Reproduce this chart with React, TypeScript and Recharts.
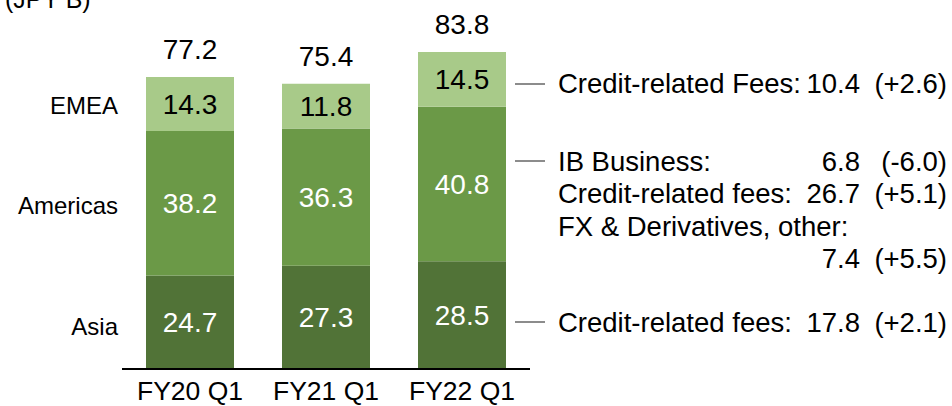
import { Bar, BarChart, LabelList, XAxis, YAxis } from "recharts";

const categories = ["FY20 Q1", "FY21 Q1", "FY22 Q1"];
const asia = [24.7, 27.3, 28.5];
const americas = [38.2, 36.3, 40.8];
const emea = [14.3, 11.8, 14.5];
const totals = [77.2, 75.4, 83.8];

const regionLabels = ["EMEA", "Americas", "Asia"];
const unitLabel = "(JPY B)";

// right-hand breakdown of FY22 Q1 by region
const emeaNotes = [["Credit-related Fees:", "10.4", "(+2.6)"]];
const americasNotes = [
    ["IB Business:", "6.8", "(-6.0)"],
    ["Credit-related fees:", "26.7", "(+5.1)"],
    ["FX & Derivatives, other:", "", ""],
    ["", "7.4", "(+5.5)"],
];
const asiaNotes = [["Credit-related fees:", "17.8", "(+2.1)"]];

const data = categories.map((name, i) => ({
    name,
    asia: asia[i],
    americas: americas[i],
    emea: emea[i],
    total: totals[i],
}));

const FONT = "'Liberation Sans', Arial, sans-serif";
const C_ASIA = "#517337";
const C_AMERICAS = "#6b9947";
const C_EMEA = "#a8ca89";

const segmentLabel = (fill: string) => (props: any) => {
    const { x, y, width, height, value } = props;
    return (
        <text x={x + width / 2} y={y + height / 2} dy={10} textAnchor="middle" fill={fill} fontSize={28} fontFamily={FONT}>
            {Number(value).toFixed(1)}
        </text>
    );
};

const totalLabel = (props: any) => {
    const { x, y, width, value } = props;
    return (
        <text x={x + width / 2} y={y - 18} textAnchor="middle" fill="#000" fontSize={28} fontFamily={FONT}>
            {Number(value).toFixed(1)}
        </text>
    );
};

const Tick = (props: any) => {
    const { x, y, payload } = props;
    return (
        <text x={x} y={y + 23} textAnchor="middle" fill="#000" fontSize={26.5} fontFamily={FONT}>
            {payload.value}
        </text>
    );
};

const NoteRows = ({ rows, y0, lineY }: { rows: string[][]; y0: number; lineY: number }) => (
    <g>
        <line x1={515} x2={545} y1={lineY} y2={lineY} stroke="#8c8c8c" strokeWidth={2} />
        {rows.map((r, i) => (
            <g key={i} fontSize={27.5} fontFamily={FONT} fill="#000">
                <text x={558} y={y0 + i * 32.3}>{r[0]}</text>
                <text x={860} y={y0 + i * 32.3} textAnchor="end">{r[1]}</text>
                <text x={947} y={y0 + i * 32.3} textAnchor="end">{r[2]}</text>
            </g>
        ))}
    </g>
);

export default function App() {
    return (
        <div style={{ position: "fixed", left: 0, top: 0, width: 952, height: 406, background: "#fff", overflow: "hidden" }}>
            <BarChart width={952} height={406} data={data} margin={{ top: 28.5, right: 422, bottom: 7, left: 122 }}>
                <XAxis dataKey="name" axisLine={{ stroke: "#000", strokeWidth: 2 }} tickLine={false} height={30} tick={<Tick />} interval={0} />
                <YAxis hide domain={[0, 90]} />
                <Bar dataKey="asia" stackId="a" fill={C_ASIA} barSize={88} isAnimationActive={false}>
                    <LabelList dataKey="asia" content={segmentLabel("#fff")} />
                </Bar>
                <Bar dataKey="americas" stackId="a" fill={C_AMERICAS} barSize={88} isAnimationActive={false}>
                    <LabelList dataKey="americas" content={segmentLabel("#fff")} />
                </Bar>
                <Bar dataKey="emea" stackId="a" fill={C_EMEA} barSize={88} isAnimationActive={false}>
                    <LabelList dataKey="emea" content={segmentLabel("#000")} />
                    <LabelList dataKey="total" content={totalLabel} />
                </Bar>
            </BarChart>
            <svg width={952} height={406} style={{ position: "absolute", left: 0, top: 0, pointerEvents: "none" }}>
                <text x={5} y={8} fontSize={25} fontFamily={FONT} fill="#000">{unitLabel}</text>
                <text x={118} y={114} textAnchor="end" fontSize={24} fontFamily={FONT} fill="#000">{regionLabels[0]}</text>
                <text x={118} y={214} textAnchor="end" fontSize={24} fontFamily={FONT} fill="#000">{regionLabels[1]}</text>
                <text x={118} y={335} textAnchor="end" fontSize={24} fontFamily={FONT} fill="#000">{regionLabels[2]}</text>
                <NoteRows rows={emeaNotes} y0={93} lineY={84} />
                <NoteRows rows={americasNotes} y0={171} lineY={161} />
                <NoteRows rows={asiaNotes} y0={332} lineY={322} />
            </svg>
        </div>
    );
}
